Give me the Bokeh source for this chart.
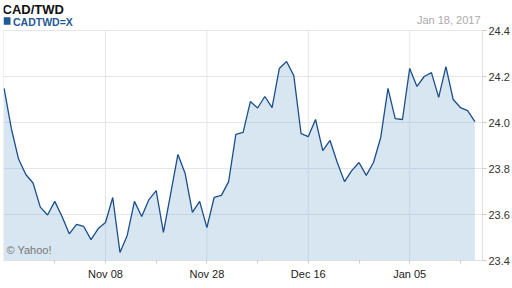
import pandas as pd
from bokeh.plotting import figure
from bokeh.models import Range1d, FixedTicker, Label, PrintfTickFormatter, BoxAnnotation
from bokeh.embed import file_html
from bokeh.resources import INLINE

# ---- data ----
dates = [d.strftime("%Y-%m-%d") for d in pd.bdate_range("2016-10-19", "2017-01-18")]
rates = [24.148, 23.974, 23.841, 23.774, 23.737, 23.632, 23.598, 23.657, 23.591, 23.516,
         23.557, 23.548, 23.491, 23.539, 23.565, 23.674, 23.435, 23.509, 23.657, 23.591,
         23.665, 23.704, 23.522, 23.691, 23.861, 23.778, 23.609, 23.657, 23.543, 23.674,
         23.683, 23.743, 23.948, 23.957, 24.091, 24.063, 24.113, 24.065, 24.235, 24.265,
         24.204, 23.952, 23.939, 24.013, 23.878, 23.922, 23.826, 23.743, 23.791, 23.826,
         23.770, 23.826, 23.935, 24.148, 24.017, 24.013, 24.235, 24.157, 24.200, 24.217,
         24.109, 24.243, 24.100, 24.065, 24.052, 24.004]
tick_dates = ["2016-11-08", "2016-11-28", "2016-12-16", "2017-01-05"]
tick_labels = ["Nov 08", "Nov 28", "Dec 16", "Jan 05"]
minor_tick_dates = ["2016-10-28", "2016-11-17", "2016-12-07", "2016-12-27", "2017-01-16"]
y_ticks = [23.4, 23.6, 23.8, 24.0, 24.2, 24.4]
title_text = "CAD/TWD"
series_name = "CADTWD=X"
date_text = "Jan 18, 2017"
credit_text = "\u00a9 Yahoo!"

idx = list(range(len(dates)))
major_idx = [dates.index(d) for d in tick_dates]
minor_idx = [dates.index(d) for d in minor_tick_dates]

FONT = "Liberation Sans"
W, H = 512, 288
FRAME_LEFT, FRAME_BOTTOM = 3, 260
PLOT_TOP = 30          # pixel row of the top of the value area
BLUE = "#1f5a96"
BORDER = "#dcdfe3"

# the frame reaches the top of the canvas so the header texts are inside it
y_lo, y_hi = y_ticks[0], y_ticks[-1]
y_top = y_hi + (y_hi - y_lo) * PLOT_TOP / (FRAME_BOTTOM - PLOT_TOP)
x_lo, x_hi = -0.08, len(dates) + 0.05

p = figure(width=W, height=H, output_backend="svg", toolbar_location=None,
           x_range=Range1d(x_lo, x_hi), y_range=Range1d(y_lo, y_top),
           y_axis_location="right",
           min_border_left=FRAME_LEFT, min_border_right=30, min_border_top=0,
           min_border_bottom=H - FRAME_BOTTOM)
p.outline_line_color = None
p.background_fill_color = "white"
p.border_fill_color = "white"

# vertical grid lines only across the value area, plus the left border
p.segment(x0=major_idx, x1=major_idx, y0=y_lo, y1=y_hi, line_color="#e3e7ec",
          line_width=1, level="underlay")
p.segment(x0=[x_lo], x1=[x_lo], y0=y_lo, y1=y_hi, line_color=BORDER, line_width=1,
          level="underlay")

p.varea(x=idx, y1=y_lo, y2=rates, fill_color="#7aacd0", fill_alpha=0.3)
p.line(idx, rates, line_color="#1b4f8a", line_width=1.3)

xa = p.xaxis[0]
xa.ticker = FixedTicker(ticks=major_idx, minor_ticks=minor_idx)
xa.major_label_overrides = {i: t for i, t in zip(major_idx, tick_labels)}
xa.axis_line_color = BORDER
xa.major_tick_line_color = "#c8cdd3"
xa.minor_tick_line_color = "#c8cdd3"
xa.major_tick_in = 0
xa.major_tick_out = 3
xa.minor_tick_in = 0
xa.minor_tick_out = 3
xa.major_label_standoff = 4
xa.major_label_text_font = FONT
xa.major_label_text_font_size = "11px"
xa.major_label_text_color = "#222222"

ya = p.yaxis[0]
ya.ticker = FixedTicker(ticks=y_ticks)
ya.formatter = PrintfTickFormatter(format="%.1f")
ya.bounds = (y_lo, y_hi)
ya.axis_line_color = BORDER
ya.major_tick_line_color = "#c8cdd3"
ya.major_tick_in = 0
ya.major_tick_out = 4
ya.minor_tick_line_color = None
ya.major_label_standoff = 2
ya.major_label_text_font = FONT
ya.major_label_text_font_size = "11px"
ya.major_label_text_color = "#333333"

p.xgrid.grid_line_color = None
p.ygrid.ticker = FixedTicker(ticks=y_ticks)
p.ygrid.grid_line_color = "#e3e7ec"
p.ygrid.grid_line_width = 1

# screen units are relative to the frame's bottom-left corner
def sx(x):
    return x - FRAME_LEFT

def sy(y_top_px):
    return FRAME_BOTTOM - y_top_px

p.add_layout(Label(x=sx(2), y=sy(1), x_units="screen", y_units="screen", text=title_text,
                   text_font=FONT, text_font_size="13px", text_font_style="bold",
                   text_color="#111111", text_baseline="top"))
p.add_layout(BoxAnnotation(left=sx(3), right=sx(10), top=sy(16.7), bottom=sy(24.3),
                           left_units="screen", right_units="screen",
                           top_units="screen", bottom_units="screen",
                           fill_color=BLUE, fill_alpha=1.0, line_color=None))
p.add_layout(Label(x=sx(12.5), y=sy(15.3), x_units="screen", y_units="screen", text=series_name,
                   text_font=FONT, text_font_size="10.5px", text_font_style="bold",
                   text_color=BLUE, text_baseline="top"))
p.add_layout(Label(x=sx(480), y=sy(13), x_units="screen", y_units="screen", text=date_text,
                   text_font=FONT, text_font_size="11px",
                   text_color="#aaaaaa", text_baseline="top", text_align="right"))
p.add_layout(Label(x=sx(6), y=sy(243), x_units="screen", y_units="screen", text=credit_text,
                   text_font=FONT, text_font_size="11px",
                   text_color="#777777", text_baseline="top"))

open("out.html", "w").write(file_html(p, INLINE))
